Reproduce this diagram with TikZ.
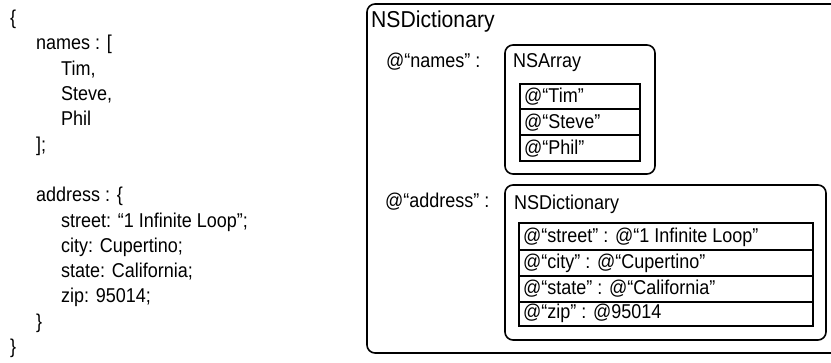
\documentclass[tikz,border=0pt]{standalone}
\usepackage{fontspec}
\setmainfont{Liberation Sans}[FakeStretch=0.9]
\newfontfamily\titlefont{Liberation Sans}[FakeStretch=0.92]
\begin{document}
\begin{tikzpicture}[x=1pt,y=-1pt,
  txt/.style={anchor=base west, inner sep=0pt, font=\fontsize{20}{24}\selectfont},
  head/.style={anchor=base west, inner sep=0pt, font=\titlefont\fontsize{23}{27}\selectfont},
  frame/.style={draw, line width=1.6pt, rounded corners=8pt},
  tableline/.style={draw, line width=1.5pt}]
\useasboundingbox (0,0) rectangle (831,363);
\clip (0,0) rectangle (831,363);

% JSON source text
\node[txt] (l1)  at (10,24.7)  {\{};
\node[txt] (l2)  at (36,50)    {names : [};
\node[txt] (l3)  at (61,75.3)  {Tim,};
\node[txt] (l4)  at (61,100.6) {Steve,};
\node[txt] (l5)  at (61,125.9) {Phil};
\node[txt] (l6)  at (36,151.2) {];};
\node[txt] (l7)  at (36,201.8) {address : \{};
\node[txt] (l8)  at (61,227.1) {street: “1 Infinite Loop”;};
\node[txt] (l9)  at (61,252.4) {city: Cupertino;};
\node[txt] (l10) at (61,277.7) {state: California;};
\node[txt] (l11) at (61,303)   {zip: 95014;};
\node[txt] (l12) at (36,328.3) {\}};
\node[txt] (l13) at (10,353.6) {\}};

% outer dictionary
\draw[frame] (367,4) rectangle (850,353);
\node[head] (dict) at (371,28) {NSDictionary};

% names array
\node[txt] (knames) at (386,68) {@“names” :};
\draw[frame] (505,45) rectangle (655,174);
\node[txt] (arr) at (513,68) {NSArray};
\draw[tableline] (520,84) rectangle (640,161);
\draw[tableline] (520,109) -- (640,109);
\draw[tableline] (520,135) -- (640,135);
\node[txt] (tim)   at (524,103) {@“Tim”};
\node[txt] (steve) at (524,129) {@“Steve”};
\node[txt] (phil)  at (524,155) {@“Phil”};

% address dictionary
\node[txt] (kaddr) at (385,208) {@“address” :};
\draw[frame] (505,185) rectangle (826,340);
\node[txt] (adict) at (514,210) {NSDictionary};
\draw[tableline] (519,223) rectangle (813,326);
\draw[tableline] (519,250) -- (813,250);
\draw[tableline] (519,276) -- (813,276);
\draw[tableline] (519,302) -- (813,302);
\node[txt] (street) at (523,243) {@“street” : @“1 Infinite Loop”};
\node[txt] (city)   at (523,269) {@“city” : @“Cupertino”};
\node[txt] (state)  at (523,295) {@“state” : @“California”};
\node[txt] (zip)    at (523,319) {@“zip” : @95014};
\end{tikzpicture}
\end{document}
